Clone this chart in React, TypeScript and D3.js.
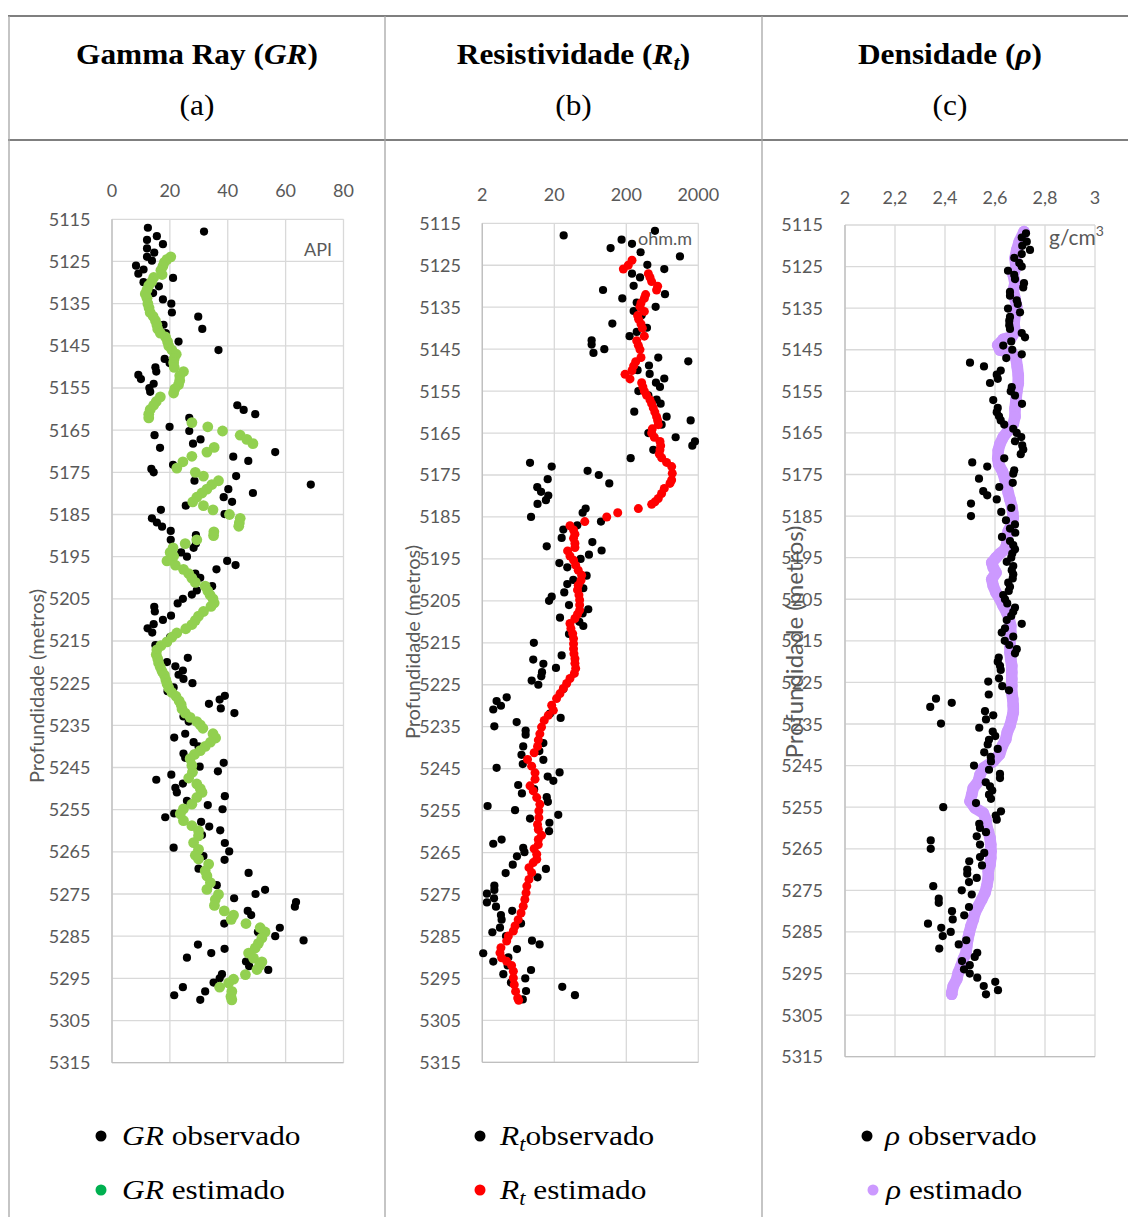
import React from "react";
import * as d3 from "d3";

// ---------------- DATA ----------------
const depthTicks = [5115, 5125, 5135, 5145, 5155, 5165, 5175, 5185, 5195, 5205, 5215, 5225, 5235, 5245, 5255, 5265, 5275, 5285, 5295, 5305, 5315];
const grTicks = [0, 20, 40, 60, 80];
const rtTicks = [2, 20, 200, 2000];
const rhoTicks = [2, 2.2, 2.4, 2.6, 2.8, 3];

// [depth (m), GR (API)]
const grObserved: [number, number][] = [
  [5117.0,12.4],[5117.9,31.8],[5119.0,15.5],[5119.9,12.1],[5120.9,17.6],[5121.9,12.1],[5122.9,14.6],[5123.9,12.1],[5124.8,13.8],
  [5126.0,8.3],[5126.9,10.9],[5127.9,9.1],[5128.9,21.1],[5129.9,10.9],[5130.9,16.2],[5132.5,14.2],[5134.0,17.6],[5135.0,20.5],
  [5137.1,20.7],[5138.1,29.8],[5140.0,17.8],[5141.0,31.2],[5142.0,18.6],[5144.0,23.0],[5146.0,36.8],[5147.1,21.6],[5148.1,18.2],
  [5149.1,19.9],[5150.1,15.0],[5151.1,15.3],[5151.9,9.1],[5152.9,10.0],[5154.0,14.4],[5155.0,12.9],[5155.9,13.2],[5159.1,43.3],
  [5160.2,45.5],[5161.2,49.5],[5162.1,26.7],[5164.2,19.9],[5165.2,26.7],[5166.2,14.7],[5167.2,30.6],[5168.2,28.0],[5169.2,16.6],
  [5170.2,56.4],[5171.3,41.9],[5172.3,47.1],[5173.2,21.1],[5174.2,13.6],[5175.0,14.4],[5175.9,42.9],[5177.0,28.5],[5177.9,68.7],
  [5179.0,40.2],[5179.9,48.7],[5180.9,38.6],[5182.0,41.5],[5182.9,25.5],[5183.9,16.9],[5184.9,38.9],[5185.9,13.8],[5186.9,15.5],
  [5187.9,17.3],[5188.9,20.3],[5189.9,29.0],[5191.0,20.3],[5191.9,29.0],[5192.9,28.2],[5194.0,23.9],[5195.0,25.9],[5196.0,39.8],
  [5197.0,42.7],[5198.0,36.1],[5199.0,28.8],[5200.0,30.5],[5202.0,34.6],[5203.0,29.3],[5204.0,27.6],[5205.0,24.5],[5206.1,22.7],
  [5206.9,14.6],[5208.0,14.8],[5209.0,20.4],[5210.0,17.6],[5211.0,14.4],[5212.0,12.3],[5213.0,13.9],[5214.1,20.1],[5215.1,19.0],
  [5216.0,15.0],[5219.0,26.2],[5220.0,19.0],[5221.0,21.9],[5222.0,24.5],[5223.0,23.0],[5224.0,24.7],[5225.0,27.8],[5226.0,21.3],
  [5226.9,19.2],[5228.0,39.0],[5228.9,37.2],[5229.9,33.5],[5231.0,37.6],[5232.1,42.3],[5232.9,24.7],[5234.1,26.5],[5237.0,25.3],
  [5237.9,21.5],[5239.0,28.2],[5240.0,29.9],[5241.7,24.7],[5242.7,25.3],[5243.9,38.6],[5244.8,30.3],[5245.9,36.6],[5246.7,20.5],
  [5247.9,15.3],[5248.8,24.5],[5249.8,21.9],[5250.9,22.4],[5251.8,39.0],[5252.9,25.9],[5253.9,33.1],[5254.9,38.2],[5255.9,21.5],
  [5256.8,18.4],[5257.9,30.8],[5259.0,33.6],[5259.9,37.4],[5261.0,31.1],[5262.9,39.0],[5264.0,21.3],[5264.9,40.5],[5266.0,31.6],
  [5266.9,38.9],[5269.0,29.9],[5270.0,47.2],[5272.9,36.2],[5274.0,52.9],[5275.0,49.6],[5276.0,42.2],[5276.9,63.6],[5278.0,63.2],
  [5279.0,46.9],[5280.0,48.1],[5281.0,40.9],[5282.0,38.8],[5283.0,58.0],[5284.0,50.4],[5285.0,56.4],[5286.0,66.2],[5287.0,29.7],
  [5288.0,38.9],[5289.0,34.3],[5290.1,25.9],[5291.0,46.3],[5292.1,47.4],[5293.0,54.0],[5294.0,38.0],[5295.0,37.2],[5296.0,35.1],
  [5297.1,24.5],[5298.1,32.2],[5299.0,21.5],[5300.1,30.5],
];

const grEstimated: [number, number][] = [
  [5123.9,20.3],[5124.5,19.0],[5125.2,18.1],[5126.1,17.6],[5127.1,16.9],[5128.1,17.3],[5128.8,14.4],[5129.8,13.7],[5130.7,12.7],
  [5131.7,12.1],[5132.7,11.5],[5133.7,12.1],[5135.0,12.4],[5136.0,12.8],[5137.1,13.2],[5138.0,14.2],[5139.0,15.0],[5140.0,15.5],
  [5141.0,15.8],[5142.0,16.7],[5142.9,18.5],[5144.0,19.2],[5145.0,19.6],[5146.0,20.7],[5147.0,22.2],[5148.0,21.5],[5149.0,21.3],
  [5150.1,21.5],[5151.1,24.7],[5152.1,23.4],[5153.2,23.4],[5154.2,23.0],[5155.2,21.7],[5156.2,21.3],[5157.1,16.7],[5158.2,15.3],
  [5159.1,14.4],[5160.1,13.2],[5161.2,12.7],[5162.1,12.7],[5163.2,27.6],[5164.2,33.1],[5165.2,38.2],[5166.2,44.3],[5167.2,46.6],
  [5168.2,48.7],[5169.1,35.3],[5170.2,32.8],[5171.2,27.6],[5172.5,24.5],[5174.0,22.4],[5175.0,28.8],[5175.9,31.6],[5177.0,36.8],
  [5177.9,34.5],[5179.0,32.8],[5179.9,31.1],[5180.9,29.3],[5182.0,27.9],[5182.9,31.6],[5183.9,34.9],[5185.0,40.6],[5185.9,44.3],
  [5187.0,44.0],[5187.8,43.8],[5189.1,35.2],[5190.0,35.1],[5191.0,29.3],[5191.9,25.3],[5192.9,21.1],[5194.0,20.1],[5194.9,21.3],
  [5196.0,19.0],[5197.0,21.9],[5198.0,24.7],[5199.0,26.5],[5200.1,27.6],[5201.1,28.8],[5202.0,32.2],[5203.1,33.1],[5204.1,33.9],
  [5205.0,34.9],[5206.0,35.3],[5206.8,34.2],[5208.0,31.6],[5209.1,29.9],[5210.1,28.8],[5211.1,27.6],[5212.1,25.5],[5213.1,22.4],
  [5214.1,20.7],[5215.2,19.0],[5216.1,16.9],[5217.1,15.5],[5218.2,15.3],[5219.2,15.8],[5220.2,16.1],[5221.2,16.7],[5222.2,17.3],
  [5223.1,18.1],[5224.2,18.6],[5225.1,19.0],[5226.1,19.6],[5227.2,20.7],[5228.1,22.1],[5229.2,23.2],[5230.1,23.9],[5231.1,24.2],
  [5232.1,25.3],[5233.1,27.0],[5234.1,29.3],[5234.9,30.5],[5235.7,31.4],[5237.0,34.9],[5238.0,35.8],[5239.0,34.0],[5240.0,32.2],
  [5241.0,30.5],[5241.9,28.5],[5242.9,27.0],[5244.5,27.6],[5246.1,27.8],[5247.5,26.5],[5248.9,29.3],[5250.0,30.5],[5250.9,31.1],
  [5252.1,29.3],[5253.7,27.6],[5254.8,24.7],[5256.0,23.6],[5257.6,24.7],[5258.8,27.6],[5260.0,29.9],[5261.2,29.9],[5262.8,28.2],
  [5264.4,29.9],[5265.8,28.8],[5266.7,29.9],[5267.9,33.4],[5269.5,32.2],[5270.7,32.8],[5272.3,34.0],[5273.9,32.8],[5275.1,36.8],
  [5276.3,35.7],[5277.7,35.4],[5279.0,38.8],[5280.0,42.0],[5281.0,41.2],[5282.0,46.3],[5283.0,51.2],[5284.0,52.9],[5285.4,51.8],
  [5286.7,50.6],[5287.8,49.5],[5289.0,47.2],[5290.2,48.9],[5291.1,51.8],[5292.0,51.0],[5292.9,50.1],[5294.1,46.1],[5295.2,42.0],
  [5296.1,40.3],[5297.1,37.2],[5298.1,41.4],[5299.3,41.1],[5300.1,41.4],
];

// [depth (m), Rt (ohm.m)]
const rtObserved: [number, number][] = [
  [5116.8,500],[5117.9,27],[5118.9,172],[5119.9,240],[5120.9,121],[5121.9,316],[5122.9,1112],[5124.9,392],[5125.9,674],[5127.0,240],
  [5127.9,310],[5129.9,253],[5130.9,95],[5131.9,689],[5132.9,176],[5133.9,279],[5134.9,511],[5135.9,253],[5136.9,327],[5138.9,128],
  [5139.9,387],[5140.9,279],[5141.9,222],[5142.9,66],[5143.9,66],[5145.0,99],[5145.9,70],[5147.0,556],[5147.9,1452],[5148.9,413],
  [5150.0,287],[5150.9,422],[5152.0,674],[5153.0,516],[5154.0,587],[5155.0,294],[5156.0,405],[5157.0,527],[5158.0,600],[5159.9,258],
  [5161.1,726],[5162.0,1566],[5163.0,619],[5165.0,405],[5166.0,969],[5167.0,1798],[5168.0,1652],[5169.0,474],[5171.0,230],[5172.1,9.2],
  [5173.0,18.4],[5174.0,58],[5175.0,83],[5176.0,16.2],[5177.0,116],[5177.9,11.6],[5179.0,13.1],[5179.9,16.5],[5181.0,15.3],[5181.9,11.7],
  [5183.0,54.5],[5184.0,49.5],[5185.0,9.5],[5186.1,89],[5187.0,41.7],[5188.0,26.7],[5190.0,25.3],[5191.0,67.5],[5192.0,15.7],[5193.0,90.8],
  [5194.0,60.6],[5195.0,46.4],[5196.0,23.5],[5197.0,30.3],[5199.0,56.2],[5200.0,36.7],[5201.0,30.3],[5202.0,50.6],[5203.0,27.5],[5204.0,18.4],
  [5205.0,16.9],[5206.0,32],[5207.0,59.3],[5208.0,49.5],[5209.0,24],[5210.0,44.5],[5211.0,50.6],[5212.9,32],[5215.0,10.4],[5218.0,25.3],
  [5219.0,10.2],[5220.0,14.1],[5221.0,21.1],[5222.0,13.5],[5223.0,13.2],[5224.0,9.7],[5225.0,12],[5226.0,26.7],[5228.0,4.36],[5228.9,3.16],
  [5230.0,3.63],[5230.9,2.84],[5231.9,17.4],[5232.9,24.5],[5233.9,6.0],[5234.9,2.94],[5235.9,8.0],[5236.9,8.0],[5238.9,14.1],[5239.7,7.4],
  [5240.8,12.4],[5241.7,7.0],[5242.9,14.1],[5243.9,7.3],[5244.8,3.16],[5245.9,23.7],[5246.9,16.2],[5247.9,19.4],[5248.9,6.3],[5249.9,10.5],
  [5250.9,7.1],[5251.8,15.7],[5252.9,16.3],[5253.9,2.37],[5254.9,5.7],[5256.0,22.7],[5256.9,9.2],[5257.9,17.1],[5259.9,16.9],[5261.9,3.71],
  [5262.9,2.84],[5263.9,7.4],[5264.9,7.7],[5265.9,6.06],[5267.9,5.3],[5268.9,15.3],[5269.9,4.22],[5270.9,11.7],[5272.9,2.94],[5273.9,2.94],
  [5274.8,2.32],[5275.9,2.91],[5276.9,2.32],[5277.9,3.1],[5278.9,5.2],[5279.9,3.63],[5281.0,3.71],[5281.9,6.9],[5282.9,3.52],[5284.0,2.76],
  [5284.9,4.27],[5286.0,9.8],[5286.9,12.5],[5288.0,6.06],[5289.0,2.06],[5290.0,4.6],[5291.0,2.84],[5291.9,4.5],[5293.0,9.5],[5294.0,3.92],
  [5295.0,7.9],[5296.0,5.0],[5297.0,25.8],[5298.0,8.1],[5299.0,38.7],[5300.0,7.3],
];

const rtEstimated: [number, number][] = [
  [5123.8,240],[5125.0,213],[5125.9,182],[5127.0,405],[5127.9,427],[5128.9,450],[5130.0,545],[5130.9,527],[5132.0,371],[5132.9,356],
  [5134.0,320],[5134.9,310],[5136.0,356],[5137.0,287],[5137.9,297],[5139.0,320],[5140.0,334],[5141.9,356],[5143.0,279],[5144.1,294],
  [5145.1,310],[5147.0,320],[5148.0,270],[5149.0,253],[5150.1,240],[5151.0,192],[5152.1,225],[5153.0,327],[5154.0,340],[5155.0,356],
  [5156.0,383],[5157.1,427],[5158.0,450],[5159.0,474],[5160.0,498],[5161.1,527],[5162.0,545],[5163.0,556],[5164.0,459],[5165.0,450],
  [5166.0,490],[5167.0,587],[5168.0,600],[5169.0,587],[5170.0,574],[5170.9,619],[5172.0,726],[5173.0,853],[5174.6,870],[5176.2,853],
  [5177.0,808],[5178.2,674],[5179.4,619],[5180.6,556],[5181.4,500],[5182.0,450],[5183.0,294],[5184.0,152],[5185.0,107],[5186.1,53],
  [5187.1,33],[5188.1,37],[5189.1,38.7],[5190.1,37],[5191.3,38.7],[5192.3,38.7],[5193.1,30.6],[5194.3,33],[5195.3,37],[5196.5,39.6],
  [5197.7,43],[5198.9,48],[5200.1,47],[5201.3,43],[5202.4,42],[5203.6,44],[5204.8,45],[5206.0,45],[5207.2,45],[5208.2,42],
  [5209.2,38.7],[5210.4,33],[5211.6,34],[5212.8,36],[5214.0,37],[5215.2,37],[5216.4,37],[5217.6,37.5],[5218.8,38.7],[5219.9,38.7],
  [5221.1,39.6],[5222.3,38],[5223.5,33],[5224.7,29.7],[5225.9,26.7],[5227.1,24],[5228.3,21.5],[5229.9,18.4],[5231.1,19.4],[5232.3,16.5],
  [5233.5,14.5],[5235.1,13.3],[5236.7,12.6],[5238.2,12],[5239.7,11.7],[5241.2,10.5],[5242.8,8.5],[5244.4,9.7],[5246.0,10.8],[5247.5,10.8],
  [5249.1,9.2],[5250.3,10.2],[5251.9,11.4],[5253.5,12.6],[5255.1,12.2],[5256.7,12.2],[5258.3,11.7],[5259.5,12.0],[5260.9,13.3],[5261.9,12.0],
  [5263.1,12.0],[5264.1,10.5],[5265.4,11.4],[5266.6,11.4],[5267.4,10.2],[5268.6,8.9],[5269.8,9.7],[5271.4,8.9],[5273.0,8.3],[5274.6,8.1],
  [5276.2,7.8],[5277.8,7.4],[5279.4,6.9],[5281.0,6.3],[5282.5,5.7],[5283.7,5.4],[5284.9,4.6],[5286.1,4.36],[5287.7,3.63],[5288.9,3.52],
  [5290.1,3.71],[5290.9,4.36],[5291.9,5.1],[5293.3,5.4],[5294.9,5.4],[5296.5,5.56],[5298.1,5.8],[5299.7,6.2],[5300.2,6.4],
];

// [depth (m), density (g/cm3)]
const rhoObserved: [number, number][] = [
  [5117.0,2.724],[5118.0,2.707],[5119.0,2.727],[5120.0,2.709],[5121.0,2.740],[5122.0,2.707],[5122.9,2.677],[5124.1,2.697],[5125.0,2.707],
  [5126.0,2.652],[5127.0,2.677],[5128.0,2.680],[5129.0,2.716],[5130.0,2.713],[5131.1,2.660],[5132.0,2.660],[5133.1,2.687],[5134.0,2.691],
  [5135.1,2.652],[5136.0,2.700],[5137.1,2.660],[5138.0,2.657],[5139.1,2.657],[5140.0,2.660],[5141.0,2.707],[5142.0,2.720],[5143.0,2.665],
  [5144.0,2.633],[5145.0,2.669],[5146.1,2.707],[5147.0,2.645],[5148.1,2.500],[5149.0,2.556],[5150.0,2.623],[5151.0,2.607],[5152.0,2.611],
  [5153.0,2.580],[5154.0,2.667],[5155.0,2.663],[5156.0,2.680],[5157.1,2.593],[5158.0,2.708],[5159.0,2.611],[5160.0,2.607],[5161.0,2.616],
  [5162.0,2.623],[5163.0,2.637],[5164.0,2.673],[5165.0,2.687],[5166.0,2.705],[5167.0,2.680],[5168.0,2.709],[5169.0,2.713],[5170.1,2.703],
  [5171.1,2.637],[5172.1,2.509],[5173.1,2.569],[5174.0,2.677],[5174.8,2.673],[5176.0,2.536],[5177.0,2.671],[5178.0,2.617],[5179.0,2.553],
  [5180.0,2.569],[5181.0,2.607],[5182.0,2.504],[5183.0,2.665],[5184.0,2.625],[5185.0,2.504],[5186.0,2.644],[5187.0,2.680],[5188.0,2.660],
  [5189.0,2.681],[5190.0,2.628],[5191.0,2.660],[5192.0,2.673],[5193.0,2.680],[5194.0,2.669],[5195.0,2.665],[5196.0,2.647],[5197.0,2.673],
  [5198.0,2.667],[5199.0,2.673],[5200.0,2.671],[5201.0,2.653],[5202.0,2.660],[5203.0,2.655],[5204.0,2.633],[5205.0,2.640],[5206.0,2.649],
  [5207.0,2.680],[5208.0,2.673],[5209.0,2.665],[5210.0,2.647],[5210.9,2.707],[5212.0,2.640],[5213.0,2.627],[5214.0,2.673],[5215.0,2.639],
  [5216.0,2.657],[5217.0,2.687],[5218.0,2.680],[5219.0,2.615],[5220.0,2.611],[5221.0,2.620],[5222.0,2.623],[5224.0,2.616],[5224.8,2.573],
  [5225.9,2.629],[5226.9,2.656],[5227.9,2.575],[5228.9,2.364],[5229.9,2.427],[5230.9,2.341],[5231.9,2.560],[5232.9,2.593],[5233.9,2.564],
  [5234.9,2.384],[5235.9,2.537],[5236.8,2.591],[5237.9,2.601],[5238.8,2.576],[5239.9,2.571],[5241.0,2.611],[5241.8,2.557],[5242.9,2.583],
  [5244.0,2.584],[5245.0,2.516],[5246.0,2.576],[5247.0,2.620],[5248.0,2.620],[5249.0,2.563],[5250.0,2.580],[5251.0,2.589],[5252.0,2.576],
  [5253.0,2.584],[5254.0,2.524],[5255.0,2.393],[5256.0,2.624],[5257.0,2.603],[5258.0,2.607],[5259.0,2.537],[5260.0,2.540],[5261.0,2.564],
  [5262.0,2.527],[5263.0,2.343],[5264.0,2.540],[5265.0,2.343],[5266.0,2.557],[5267.0,2.540],[5268.0,2.497],[5269.0,2.548],[5270.0,2.489],
  [5271.0,2.489],[5272.0,2.527],[5273.0,2.496],[5274.0,2.353],[5275.0,2.467],[5276.0,2.507],[5277.0,2.375],[5278.0,2.375],[5279.0,2.496],
  [5280.0,2.428],[5281.0,2.477],[5282.0,2.431],[5283.0,2.332],[5284.0,2.385],[5285.0,2.423],[5286.0,2.391],[5287.0,2.485],[5288.0,2.455],
  [5289.0,2.377],[5290.0,2.529],[5291.0,2.519],[5292.0,2.468],[5293.0,2.499],[5294.0,2.476],[5295.0,2.499],[5296.0,2.529],[5297.0,2.601],
  [5298.0,2.555],[5299.0,2.612],[5300.0,2.564],
];

const rhoEstimated: [number, number][] = [
  [5116.6,2.716],[5119.0,2.697],[5121.0,2.687],[5123.0,2.680],[5125.0,2.684],[5127.0,2.673],[5129.0,2.680],[5130.7,2.673],[5132.7,2.680],
  [5134.7,2.687],[5136.7,2.680],[5138.7,2.676],[5140.7,2.680],[5141.9,2.667],[5142.5,2.633],[5143.9,2.611],[5145.1,2.620],[5145.7,2.667],
  [5147.1,2.684],[5149.1,2.689],[5151.1,2.693],[5153.1,2.693],[5155.1,2.687],[5157.1,2.684],[5159.1,2.680],[5161.1,2.680],[5162.8,2.673],
  [5164.4,2.653],[5166.0,2.633],[5167.6,2.620],[5169.2,2.613],[5171.2,2.611],[5172.6,2.615],[5174.3,2.630],[5176.2,2.640],[5177.8,2.647],
  [5179.4,2.653],[5181.0,2.660],[5182.6,2.667],[5184.2,2.671],[5185.4,2.673],[5187.0,2.667],[5188.6,2.653],[5190.2,2.649],[5191.8,2.647],
  [5193.0,2.640],[5194.0,2.620],[5195.0,2.604],[5196.2,2.587],[5197.4,2.593],[5198.6,2.604],[5200.2,2.587],[5201.8,2.593],[5203.4,2.604],
  [5205.0,2.620],[5206.6,2.633],[5208.2,2.647],[5209.8,2.657],[5211.4,2.663],[5213.0,2.663],[5214.6,2.660],[5216.2,2.660],[5217.8,2.660],
  [5219.4,2.663],[5221.0,2.667],[5222.6,2.667],[5224.2,2.667],[5225.8,2.667],[5227.4,2.667],[5229.0,2.671],[5230.6,2.673],[5232.2,2.673],
  [5233.8,2.667],[5235.4,2.660],[5237.0,2.649],[5238.7,2.643],[5240.3,2.629],[5242.3,2.618],[5244.0,2.593],[5245.6,2.553],[5247.2,2.540],
  [5248.8,2.533],[5250.4,2.513],[5252.0,2.507],[5253.6,2.500],[5255.2,2.520],[5256.4,2.553],[5258.0,2.564],[5259.6,2.567],[5260.8,2.573],
  [5262.4,2.580],[5264.0,2.583],[5265.6,2.584],[5267.2,2.583],[5268.8,2.580],[5270.4,2.573],[5272.0,2.573],[5274.0,2.567],[5275.6,2.560],
  [5277.2,2.547],[5278.8,2.533],[5280.4,2.520],[5282.0,2.513],[5283.6,2.504],[5285.2,2.497],[5286.8,2.491],[5288.4,2.487],[5290.0,2.484],
  [5291.6,2.473],[5293.2,2.464],[5294.8,2.453],[5296.4,2.447],[5298.0,2.433],[5299.6,2.427],[5300.0,2.427],
];

// ---------------- LAYOUT ----------------
const W = 1128;
const H = 1217;
const SERIF = "'Liberation Serif', 'Times New Roman', serif";
const SANS = "Lato, 'Liberation Sans', sans-serif";
const TICK_COLOR = "#595959";
const GRID = "#d9d9d9";
const AXIS = "#bfbfbf";

type Panel = {
  left: number; right: number; top: number; bottom: number;
  log: boolean; domain: [number, number]; ticks: number[]; fmt: (v: number) => string;
  yLabelRight: number; xLabelY: number; titleX: number; titleY: number; titleSize: number;
  obs: [number, number][]; est: [number, number][];
  estColor: string; estR: number; obsR: number; obsOnTop: boolean; estLine: boolean;
  unit: React.ReactNode;
};

function ChartPanel({ p }: { p: Panel }) {
  const x = p.log
    ? d3.scaleLog().domain(p.domain).range([p.left, p.right])
    : d3.scaleLinear().domain(p.domain).range([p.left, p.right]);
  const y = d3.scaleLinear().domain([5115, 5315]).range([p.top, p.bottom]);
  const line = d3.line<[number, number]>().x(d => x(d[1])).y(d => y(d[0])).curve(d3.curveLinear);

  const obsMarks = p.obs.map((d, i) => (
    <circle key={"o" + i} cx={x(d[1])} cy={y(d[0])} r={p.obsR} fill="#000" />
  ));
  const estMarks = (
    <g>
      {p.estLine && (
        <path d={line(p.est) || ""} fill="none" stroke={p.estColor} strokeWidth={p.estR * 2} strokeLinejoin="round" strokeLinecap="round" />
      )}
      {p.est.map((d, i) => (
        <circle key={"e" + i} cx={x(d[1])} cy={y(d[0])} r={p.estR} fill={p.estColor} />
      ))}
    </g>
  );

  return (
    <g>
      {depthTicks.map(t => (
        <line key={"h" + t} x1={p.left} x2={p.right} y1={y(t)} y2={y(t)} stroke={GRID} strokeWidth={1.3} />
      ))}
      {p.ticks.map(t => (
        <line key={"v" + t} x1={x(t)} x2={x(t)} y1={p.top} y2={p.bottom} stroke={GRID} strokeWidth={1.3} />
      ))}
      <line x1={p.left} x2={p.left} y1={p.top} y2={p.bottom} stroke={AXIS} strokeWidth={1.3} />
      <line x1={p.left} x2={p.right} y1={p.bottom} y2={p.bottom} stroke={AXIS} strokeWidth={1.3} />
      {depthTicks.map(t => (
        <text key={"yl" + t} x={p.yLabelRight} y={y(t)} dy="0.36em" textAnchor="end" fontFamily={SANS} fontSize={18} fill={TICK_COLOR}>{t}</text>
      ))}
      {p.ticks.map(t => (
        <text key={"xl" + t} x={x(t)} y={p.xLabelY} dy="0.36em" textAnchor="middle" fontFamily={SANS} fontSize={18} fill={TICK_COLOR}>{p.fmt(t)}</text>
      ))}
      <text transform={`translate(${p.titleX},${p.titleY}) rotate(-90)`} textAnchor="middle" dy="0.35em" fontFamily={SANS} fontSize={p.titleSize} fill={TICK_COLOR}>Profundidade (metros)</text>
      {p.unit}
      {p.obsOnTop ? <>{estMarks}{obsMarks}</> : <>{obsMarks}{estMarks}</>}
    </g>
  );
}

const panels: Panel[] = [
  {
    left: 112, right: 343.5, top: 219.3, bottom: 1062.7, log: false, domain: [0, 80], ticks: grTicks,
    fmt: v => String(v), yLabelRight: 90.5, xLabelY: 191, titleX: 37, titleY: 686, titleSize: 20,
    obs: grObserved, est: grEstimated, estColor: "#92D050", estR: 5.4, obsR: 4.1, obsOnTop: false, estLine: false,
    unit: <text x={318} y={256} textAnchor="middle" fontFamily={SANS} fontSize={18} fill={TICK_COLOR}>API</text>,
  },
  {
    left: 482.3, right: 698.3, top: 223.3, bottom: 1062.3, log: true, domain: [2, 2000], ticks: rtTicks,
    fmt: v => String(v), yLabelRight: 461, xLabelY: 195, titleX: 413, titleY: 642, titleSize: 20,
    obs: rtObserved, est: rtEstimated, estColor: "#FF0000", estR: 4.5, obsR: 4.1, obsOnTop: false, estLine: false,
    unit: <text x={638} y={245} textAnchor="start" fontFamily={SANS} fontSize={18} fill={TICK_COLOR}>ohm.m</text>,
  },
  {
    left: 845, right: 1095, top: 225, bottom: 1056.7, log: false, domain: [2, 3], ticks: rhoTicks,
    fmt: v => (v === 2 || v === 3 ? String(v) : v.toFixed(1).replace(".", ",")), yLabelRight: 823, xLabelY: 197.5, titleX: 795, titleY: 642, titleSize: 24,
    obs: rhoObserved, est: rhoEstimated, estColor: "#CC99FF", estR: 5.8, obsR: 4.1, obsOnTop: true, estLine: true,
    unit: (
      <text x={1049} y={245} textAnchor="start" fontFamily={SANS} fontSize={21} fill={TICK_COLOR}>
        g/cm<tspan fontSize={14} dy={-9}>3</tspan>
      </text>
    ),
  },
];

function SerifText({ x, y, anchor, size, sx, bold, children }: { x: number; y: number; anchor: "start" | "middle"; size: number; sx: number; bold?: boolean; children: React.ReactNode }) {
  return (
    <text transform={`translate(${x},${y}) scale(${sx},1)`} textAnchor={anchor} fontFamily={SERIF} fontSize={size} fontWeight={bold ? "bold" : "normal"} fill="#000">
      {children}
    </text>
  );
}

export default function App() {
  const colCenters = [197, 573.5, 950];
  const TS = 29, TSX = 1.08;
  const LS = 28, LSX = 1.12;
  return (
    <svg width={W} height={H} style={{ position: "absolute", left: 0, top: 0, background: "#fff" }}>
      <rect x={0} y={0} width={W} height={H} fill="#fff" />
      <line x1={8} x2={W} y1={16} y2={16} stroke="#7f7f7f" strokeWidth={2.2} />
      <line x1={8} x2={W} y1={140} y2={140} stroke="#7f7f7f" strokeWidth={2.2} />
      {[9, 385, 762].map(xv => (
        <line key={xv} x1={xv} x2={xv} y1={16} y2={H} stroke="#a6a6a6" strokeWidth={1.3} />
      ))}

      <SerifText x={colCenters[0]} y={64} anchor="middle" size={TS} sx={TSX} bold>
        Gamma Ray (<tspan fontStyle="italic">GR</tspan>)
      </SerifText>
      <SerifText x={colCenters[1]} y={64} anchor="middle" size={TS} sx={TSX} bold>
        Resistividade (<tspan fontStyle="italic">R</tspan><tspan fontStyle="italic" fontSize={21} dy={6}>t</tspan><tspan dy={-6}>)</tspan>
      </SerifText>
      <SerifText x={colCenters[2]} y={64} anchor="middle" size={TS} sx={TSX} bold>
        Densidade (<tspan fontStyle="italic">ρ</tspan>)
      </SerifText>
      <SerifText x={colCenters[0]} y={115} anchor="middle" size={TS} sx={TSX}>(a)</SerifText>
      <SerifText x={colCenters[1]} y={115} anchor="middle" size={TS} sx={TSX}>(b)</SerifText>
      <SerifText x={colCenters[2]} y={115} anchor="middle" size={TS} sx={TSX}>(c)</SerifText>

      {panels.map((p, i) => <ChartPanel key={i} p={p} />)}

      <circle cx={101} cy={1136} r={5.5} fill="#000" />
      <SerifText x={122} y={1145} anchor="start" size={LS} sx={LSX}><tspan fontStyle="italic">GR</tspan> observado</SerifText>
      <circle cx={101} cy={1190} r={5.5} fill="#00B050" />
      <SerifText x={122} y={1199} anchor="start" size={LS} sx={LSX}><tspan fontStyle="italic">GR</tspan> estimado</SerifText>

      <circle cx={480} cy={1136} r={5.5} fill="#000" />
      <SerifText x={500} y={1145} anchor="start" size={LS} sx={LSX}><tspan fontStyle="italic">R</tspan><tspan fontStyle="italic" fontSize={20} dy={6}>t</tspan><tspan dy={-6}>observado</tspan></SerifText>
      <circle cx={480} cy={1190} r={5.5} fill="#FF0000" />
      <SerifText x={500} y={1199} anchor="start" size={LS} sx={LSX}><tspan fontStyle="italic">R</tspan><tspan fontStyle="italic" fontSize={20} dy={6}>t</tspan><tspan dy={-6}> estimado</tspan></SerifText>

      <circle cx={867} cy={1136} r={5.5} fill="#000" />
      <SerifText x={885} y={1145} anchor="start" size={LS} sx={LSX}><tspan fontStyle="italic">ρ</tspan> observado</SerifText>
      <circle cx={873} cy={1190} r={5.5} fill="#CC99FF" />
      <SerifText x={886} y={1199} anchor="start" size={LS} sx={LSX}><tspan fontStyle="italic">ρ</tspan> estimado</SerifText>
    </svg>
  );
}
